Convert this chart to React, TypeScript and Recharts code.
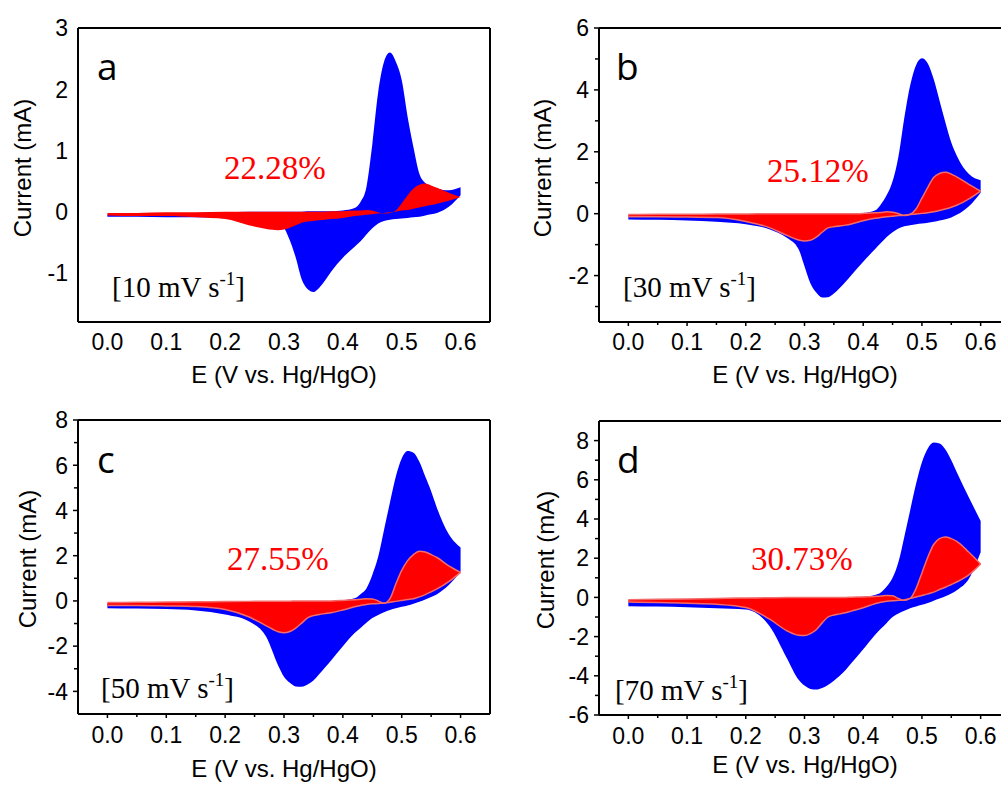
import React from 'react'
import { ComposedChart, Area, XAxis, YAxis } from 'recharts'

// potential grid (V vs. Hg/HgO), shared by all four voltammograms
const potentials = [
  0, 0.05, 0.1, 0.15, 0.2, 0.24, 0.27, 0.29, 0.3, 0.31, 0.32, 0.33, 0.34, 0.35, 0.36, 0.37, 0.38,
  0.4, 0.42, 0.43, 0.44, 0.45, 0.46, 0.47, 0.48, 0.49, 0.5, 0.51, 0.52, 0.53, 0.54, 0.55, 0.56, 0.58, 0.6,
]

// (a) 10 mV/s — blue = total current, red = capacitive part
const totalUpperA = [-0.05, -0.04, -0.03, -0.02, -0.01, 0, 0, 0, 0, 0, 0, 0, 0.01, 0.01, 0.01, 0.01, 0.01, 0.02, 0.06, 0.16, 0.4, 1.1, 1.95, 2.45, 2.6, 2.45, 2.15, 1.55, 1.05, 0.62, 0.47, 0.42, 0.38, 0.35, 0.4]
const totalLowerA = [-0.08, -0.08, -0.09, -0.09, -0.1, -0.11, -0.13, -0.17, -0.26, -0.47, -0.75, -1.1, -1.26, -1.31, -1.24, -1.12, -0.98, -0.75, -0.57, -0.48, -0.37, -0.27, -0.19, -0.15, -0.13, -0.12, -0.11, -0.1, -0.09, -0.08, -0.06, -0.04, -0.02, 0.08, 0.27]
const capUpperA = [-0.02, -0.02, -0.01, -0.01, 0, 0, 0, 0, 0, 0, 0, 0, 0, 0, 0, 0, 0.01, 0.01, 0.02, 0.02, 0.03, 0.02, -0.01, -0.03, -0.02, 0.02, 0.14, 0.27, 0.38, 0.44, 0.46, 0.43, 0.39, 0.31, 0.24]
const capLowerA = [-0.06, -0.07, -0.07, -0.09, -0.12, -0.22, -0.28, -0.3, -0.29, -0.26, -0.22, -0.18, -0.16, -0.15, -0.14, -0.13, -0.12, -0.1, -0.07, -0.06, -0.05, -0.04, -0.03, -0.02, -0.01, 0, 0.02, 0.03, 0.05, 0.07, 0.09, 0.11, 0.13, 0.18, 0.24]

// (b) 30 mV/s
const totalUpperB = [-0.1, -0.09, -0.07, -0.05, -0.04, -0.03, -0.02, -0.02, -0.02, -0.01, -0.01, -0.01, 0, 0, 0, 0, 0, 0.02, 0.1, 0.3, 0.6, 1.05, 1.85, 3.1, 4.15, 4.8, 5.02, 4.85, 4.35, 3.65, 2.95, 2.3, 1.85, 1.28, 1.08]
const totalLowerB = [-0.19, -0.2, -0.22, -0.26, -0.34, -0.5, -0.78, -1.15, -1.7, -2.25, -2.55, -2.71, -2.7, -2.58, -2.4, -2.2, -1.98, -1.55, -1.15, -0.95, -0.75, -0.6, -0.48, -0.41, -0.37, -0.34, -0.32, -0.29, -0.26, -0.22, -0.18, -0.12, -0.03, 0.24, 0.68]
const capUpperB = [-0.03, -0.02, -0.02, -0.01, -0.01, 0, 0, 0, 0, 0, 0, 0, 0, 0, 0, 0, 0, 0.01, 0.03, 0.04, 0.06, 0.05, 0, -0.06, -0.02, 0.15, 0.5, 0.85, 1.17, 1.3, 1.34, 1.28, 1.18, 0.95, 0.73]
const capLowerB = [-0.1, -0.1, -0.11, -0.12, -0.25, -0.45, -0.7, -0.85, -0.88, -0.86, -0.76, -0.6, -0.46, -0.42, -0.4, -0.37, -0.33, -0.23, -0.15, -0.12, -0.1, -0.08, -0.06, -0.05, -0.03, -0.01, 0.01, 0.03, 0.06, 0.1, 0.15, 0.21, 0.28, 0.48, 0.73]

// (c) 50 mV/s
const totalUpperC = [-0.13, -0.12, -0.1, -0.08, -0.06, -0.05, -0.04, -0.03, -0.03, -0.02, -0.02, -0.01, -0.01, -0.01, 0, 0, 0, 0.03, 0.12, 0.3, 0.55, 1.15, 1.95, 3.15, 4.35, 5.5, 6.3, 6.63, 6.55, 6.15, 5.5, 4.85, 4.1, 2.95, 2.36]
const totalLowerC = [-0.32, -0.34, -0.36, -0.42, -0.6, -0.9, -1.6, -2.85, -3.35, -3.62, -3.78, -3.8, -3.7, -3.52, -3.23, -2.93, -2.63, -2.0, -1.42, -1.2, -0.97, -0.76, -0.62, -0.5, -0.4, -0.32, -0.26, -0.2, -0.12, -0.04, 0.06, 0.17, 0.3, 0.7, 1.3]
const capUpperC = [-0.07, -0.06, -0.05, -0.04, -0.03, -0.02, -0.01, -0.01, -0.01, -0.01, 0, 0, 0, 0, 0, 0, 0, 0.02, 0.05, 0.07, 0.1, 0.09, 0, -0.1, 0.1, 0.75, 1.35, 1.78, 2.05, 2.2, 2.16, 2.05, 1.92, 1.55, 1.26]
const capLowerC = [-0.2, -0.2, -0.22, -0.25, -0.38, -0.7, -1.1, -1.36, -1.41, -1.35, -1.2, -0.98, -0.75, -0.65, -0.6, -0.56, -0.52, -0.4, -0.26, -0.2, -0.16, -0.13, -0.11, -0.1, -0.06, -0.02, 0.02, 0.06, 0.1, 0.18, 0.28, 0.4, 0.53, 0.85, 1.26]

// (d) 70 mV/s
const totalUpperD = [-0.22, -0.2, -0.17, -0.13, -0.1, -0.08, -0.06, -0.05, -0.05, -0.04, -0.04, -0.03, -0.03, -0.02, -0.02, -0.01, -0.01, 0.03, 0.12, 0.25, 0.55, 1.0, 1.8, 3.1, 4.45, 5.8, 6.9, 7.6, 7.9, 7.85, 7.55, 7.0, 6.35, 5.1, 3.9]
const totalLowerD = [-0.45, -0.47, -0.5, -0.55, -0.62, -1.45, -3.1, -4.2, -4.5, -4.67, -4.7, -4.62, -4.47, -4.25, -4.0, -3.7, -3.35, -2.65, -1.92, -1.6, -1.3, -1.0, -0.82, -0.68, -0.55, -0.46, -0.38, -0.29, -0.17, -0.06, 0.06, 0.2, 0.38, 0.95, 2.3]
const capUpperD = [-0.12, -0.1, -0.08, -0.05, -0.03, -0.02, -0.01, -0.01, 0, 0, 0, 0, 0, 0, 0, 0, 0.01, 0.02, 0.05, 0.07, 0.1, 0.08, -0.05, -0.15, -0.05, 0.45, 1.25, 2.05, 2.7, 3.0, 3.08, 3.0, 2.85, 2.3, 1.7]
const capLowerD = [-0.24, -0.26, -0.3, -0.35, -0.52, -1.1, -1.7, -1.93, -1.95, -1.85, -1.65, -1.3, -1.0, -0.9, -0.84, -0.78, -0.7, -0.53, -0.32, -0.25, -0.2, -0.17, -0.15, -0.13, -0.05, 0.02, 0.1, 0.18, 0.27, 0.4, 0.52, 0.66, 0.8, 1.15, 1.7]

const xMajor = [0, 0.1, 0.2, 0.3, 0.4, 0.5, 0.6]
const xMinor = [0.05, 0.15, 0.25, 0.35, 0.45, 0.55]

const letters = ['a', 'b', 'c', 'd']
const shares = ['22.28%', '25.12%', '27.55%', '30.73%']
const rates = ['10', '30', '50', '70']

const yDomains: [number, number][] = [[-1.8, 3], [-3.5, 6], [-5, 8], [-6, 9]]
const yMajors = [[-1, 0, 1, 2, 3], [-2, 0, 2, 4, 6], [-4, -2, 0, 2, 4, 6, 8], [-6, -4, -2, 0, 2, 4, 6, 8]]
const yMinors = [[], [-3, -1, 1, 3, 5], [-3, -1, 1, 3, 5, 7], [-5, -3, -1, 1, 3, 5, 7]]

const sans = '"Liberation Sans", Arial, sans-serif'
const serif = '"Liberation Serif", "Times New Roman", serif'
const frame = { stroke: '#000', strokeWidth: 2 }

// plot box of each panel (relative to the panel's own div); axes are 1px thick boxes
const layout = [
  { left: 0, top: 0, width: 500, height: 390, plot: { top: 28, right: 10, bottom: 68, left: 78 }, ticks: false, outline: 'none', gap: 13,
    letterAt: [97, 80], shareAt: [224, 179], rateAt: [112, 297], xTitleAt: [284, 383], yTitleAt: [22, 168] },
  { left: 500, top: 0, width: 520, height: 390, plot: { top: 28, right: 10, bottom: 68, left: 99 }, ticks: true, outline: '#f46b6b', gap: 13,
    letterAt: [116, 80], shareAt: [267, 182], rateAt: [123, 297], xTitleAt: [305, 383], yTitleAt: [42, 168] },
  { left: 0, top: 390, width: 500, height: 395, plot: { top: 30, right: 10, bottom: 71, left: 78 }, ticks: true, outline: '#f46b6b', gap: 14,
    letterAt: [97, 83], shareAt: [227, 180], rateAt: [101, 308], xTitleAt: [284, 387], yTitleAt: [27, 169] },
  { left: 500, top: 390, width: 520, height: 395, plot: { top: 31, right: 10, bottom: 70, left: 99 }, ticks: true, outline: '#f46b6b', gap: 14,
    letterAt: [117, 83], shareAt: [251, 180], rateAt: [115, 310], xTitleAt: [305, 383], yTitleAt: [45, 170] },
]

const curves = [
  [totalUpperA, totalLowerA, capUpperA, capLowerA],
  [totalUpperB, totalLowerB, capUpperB, capLowerB],
  [totalUpperC, totalLowerC, capUpperC, capLowerC],
  [totalUpperD, totalLowerD, capUpperD, capLowerD],
]

function XTick(props: any) {
  const { x, y, payload, showLines, gap } = props
  const major = xMajor.includes(payload.value)
  return (
    <g>
      {showLines && <line x1={x} x2={x} y1={y - 1} y2={y + (major ? 4 : 3)} stroke="#000" strokeWidth={1.5} />}
      {major && (
        <text x={x} y={y - 1 + gap} dy="0.71em" textAnchor="middle" fontFamily={sans} fontSize={23} fill="#000">
          {payload.value.toFixed(1)}
        </text>
      )}
    </g>
  )
}

function YTick(props: any) {
  const { x, y, payload, showLines, majors } = props
  const major = majors.includes(payload.value)
  return (
    <g>
      {showLines && <line x1={x} x2={x - (major ? 5 : 4)} y1={y} y2={y} stroke="#000" strokeWidth={1.5} />}
      {major && (
        <text x={x - 10} y={y} dy="0.36em" textAnchor="end" fontFamily={sans} fontSize={23} fill="#000">
          {payload.value}
        </text>
      )}
    </g>
  )
}

function Panel({ i }: { i: number }) {
  const l = layout[i]
  const [tu, tl, cu, cl] = curves[i]
  const data = potentials.map((x, k) => ({ x, total: [tl[k], tu[k]], cap: [cl[k], cu[k]] }))
  const yTicks = [...yMajors[i], ...yMinors[i]].sort((a, b) => a - b)
  const xTicks = [...xMajor, ...xMinor].sort((a, b) => a - b)
  // each axis takes 1px, so the margins are the plot box minus that
  const margin = { top: l.plot.top - 1, right: l.plot.right - 1, bottom: l.plot.bottom - 1, left: l.plot.left - 1 }

  return (
    <div style={{ position: 'absolute', left: l.left, top: l.top, width: l.width, height: l.height }}>
      <ComposedChart width={l.width} height={l.height} data={data} margin={margin}>
        <XAxis dataKey="x" type="number" domain={[-0.05, 0.65]} allowDataOverflow ticks={xTicks} interval={0}
          tickSize={0} tickMargin={0} tickLine={false} axisLine={frame} height={1}
          tick={(p: any) => <XTick {...p} showLines={l.ticks} gap={l.gap} />} />
        <XAxis xAxisId="top" orientation="top" type="number" domain={[-0.05, 0.65]} allowDataOverflow
          tick={false} tickLine={false} axisLine={frame} height={1} />
        <YAxis type="number" domain={yDomains[i]} allowDataOverflow ticks={yTicks} interval={0}
          tickSize={0} tickMargin={0} tickLine={false} axisLine={frame} width={1}
          tick={(p: any) => <YTick {...p} showLines={l.ticks} majors={yMajors[i]} />} />
        <YAxis yAxisId="right" orientation="right" type="number" domain={yDomains[i]} allowDataOverflow
          tick={false} tickLine={false} axisLine={frame} width={1} />
        <Area dataKey="total" type="monotone" fill="#0000ff" fillOpacity={1} stroke="none" dot={false} activeDot={false} isAnimationActive={false} />
        <Area dataKey="cap" type="monotone" fill="#ff0000" fillOpacity={1} stroke={l.outline} strokeWidth={1.5} dot={false} activeDot={false} isAnimationActive={false} />
      </ComposedChart>
      <svg width={l.width} height={l.height} style={{ position: 'absolute', left: 0, top: 0, pointerEvents: 'none' }}>
        <text x={l.letterAt[0]} y={l.letterAt[1]} fontFamily='"Open Sans", sans-serif' fontSize={37} fill="#000">{letters[i]}</text>
        <text x={l.shareAt[0]} y={l.shareAt[1]} fontFamily={serif} fontSize={33} fill="#ff0000">{shares[i]}</text>
        <text x={l.rateAt[0]} y={l.rateAt[1]} fontFamily={serif} fontSize={29} fill="#000">
          [{rates[i]} mV s<tspan fontSize={19} dy={-12}>-1</tspan><tspan dy={12}>]</tspan>
        </text>
        <text x={l.xTitleAt[0]} y={l.xTitleAt[1]} textAnchor="middle" fontFamily={sans} fontSize={24} fill="#000">E (V vs. Hg/HgO)</text>
        <text x={l.yTitleAt[0]} y={l.yTitleAt[1]} transform={`rotate(-90 ${l.yTitleAt[0]} ${l.yTitleAt[1]})`}
          textAnchor="middle" dominantBaseline="central" fontFamily={sans} fontSize={24} fill="#000">Current (mA)</text>
      </svg>
    </div>
  )
}

export default function App() {
  return (
    <div style={{ position: 'absolute', left: 0, top: 0, width: 1001, height: 785, overflow: 'hidden', background: '#fff' }}>
      {letters.map((_, i) => <Panel key={i} i={i} />)}
    </div>
  )
}
